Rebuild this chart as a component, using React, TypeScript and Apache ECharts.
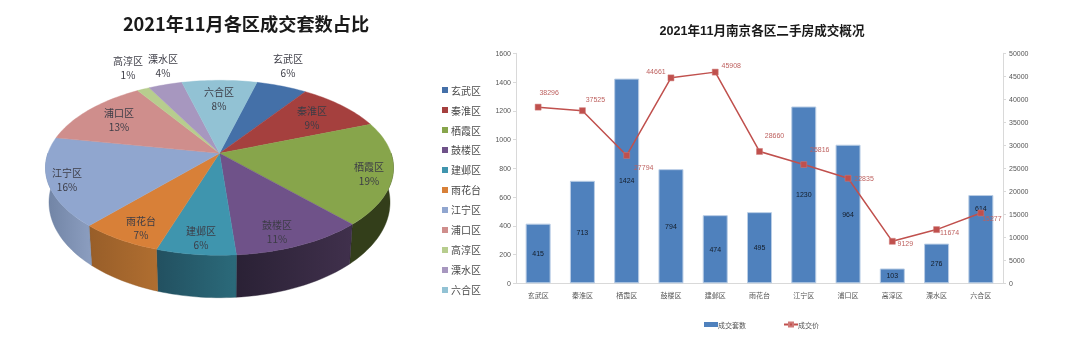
import React, { useEffect, useRef } from "react";
import * as echarts from "echarts";

const districts = ["玄武区", "秦淮区", "栖霞区", "鼓楼区", "建邺区", "雨花台", "江宁区", "浦口区", "高淳区", "溧水区", "六合区"];
const dealCounts = [415, 713, 1424, 794, 474, 495, 1230, 964, 103, 276, 614];
const dealPrices = [38296, 37525, 27794, 44661, 45908, 28660, 25816, 22835, 9129, 11674, 15277];
const sharePercents = [6, 9, 19, 11, 6, 7, 16, 13, 1, 4, 8];
const leftTicks = { max: 1600, step: 200 };
const rightTicks = { max: 50000, step: 5000 };

// styling / layout only
const sliceColors = ["#4470a8", "#a5403e", "#87a54b", "#6f5289", "#3f95ae", "#d88038", "#90a6cf", "#cf8e8c", "#b7cd8e", "#a797bf", "#92c2d4"];
const wallColors: [string, string][] = [
  ["#2f4f78", "#2f4f78"], ["#6e2b2a", "#6e2b2a"], ["#333e1a", "#333e1a"], ["#40304c", "#2a2135"],
  ["#2b6a7a", "#225060"], ["#b06e30", "#985e29"], ["#8c9ec0", "#7083a4"], ["#8e6160", "#8e6160"],
  ["#7d8c60", "#7d8c60"], ["#726783", "#726783"], ["#648592", "#648592"],
];
const pieLabelAt: [number, number][] = [[288, 65], [312, 117], [369, 173], [277, 231], [201, 237], [141, 227], [67, 179], [119, 119], [128, 67], [163, 65], [219, 98]];
const priceLabelShift: [number, number][] = [[11, -15], [13, -11], [17, 12], [-15, -6], [16, -7], [15, -16], [16, -15], [16, 0], [13, 2], [13, 3], [11, 5]];
const FIRST_ANGLE = 14.7;
const APEX = { x: 219.5, y: 153.3 };
const DISC = { rx: 171.6, ry: 85.1, k: 0.1657 };
const FLOOR = { sx: 0.98, sy: 1.09, y: 186.5 };
const CN = '"Liberation Sans", "Noto Sans CJK SC", sans-serif';
const CJK = '"Noto Sans CJK SC", sans-serif';

const total = dealCounts.reduce((a, b) => a + b, 0);

function rimPoint(deg: number, floor: boolean): [number, number] {
  const t = (deg * Math.PI) / 180;
  const u = Math.sin(t);
  const v = Math.cos(t);
  const w = 1 + DISC.k * v;
  const dx = (DISC.rx * u) / w;
  const dy = (DISC.ry * v) / w;
  return floor ? [APEX.x + dx * FLOOR.sx, FLOOR.y - dy * FLOOR.sy] : [APEX.x + dx, APEX.y - dy];
}

function arcPoints(from: number, to: number, floor: boolean) {
  const n = Math.max(2, Math.ceil(Math.abs(to - from) / 1.5));
  const pts: [number, number][] = [];
  for (let i = 0; i <= n; i++) pts.push(rimPoint(from + ((to - from) * i) / n, floor));
  return pts;
}

function makeSliceSeries(index: number) {
  const before = dealCounts.slice(0, index).reduce((a, b) => a + b, 0);
  return {
    type: "custom",
    name: districts[index],
    coordinateSystem: "none",
    itemStyle: { color: sliceColors[index] },
    silent: true,
    data: [[dealCounts[index], before]],
    renderItem: (_p: any, api: any) => {
      const value = api.value(0);
      const prior = api.value(1);
      const from = FIRST_ANGLE + (prior / total) * 360;
      const to = from + (value / total) * 360;
      const children: any[] = [];
      const wa = Math.max(from, 90);
      const wb = Math.min(to, 270);
      if (wb > wa) {
        const top = arcPoints(wa, wb, false);
        const bottom = arcPoints(wa, wb, true).reverse();
        const [c0, c1] = wallColors[index];
        const fill = new echarts.graphic.LinearGradient(1, 0, 0, 0, [
          { offset: 0, color: c0 },
          { offset: 1, color: c1 },
        ]);
        children.push({
          type: "polygon",
          z2: 1,
          shape: { points: top.concat(bottom) },
          style: { fill, stroke: c1, lineWidth: 0.4 },
        });
      }
      children.push({
        type: "polygon",
        z2: 2,
        shape: { points: [[APEX.x, APEX.y] as [number, number]].concat(arcPoints(from, to, false)) },
        style: { fill: sliceColors[index], stroke: sliceColors[index], lineWidth: 0.4 },
      });
      const [lx, ly] = pieLabelAt[index];
      children.push({
        type: "text",
        z2: 3,
        style: {
          x: lx,
          y: ly,
          text: `${districts[index]}\n${sharePercents[index]}%`,
          align: "center",
          verticalAlign: "middle",
          fill: "#3c3c46",
          font: `10px ${CJK}`,
          lineHeight: 14,
        },
      });
      return { type: "group", children };
    },
  };
}

export default function App() {
  const ref = useRef<HTMLDivElement>(null);
  useEffect(() => {
    const chart = echarts.init(ref.current!, undefined, { renderer: "svg" });
    chart.setOption({
      animation: false,
      backgroundColor: "#ffffff",
      title: [
        {
          text: "2021年11月各区成交套数占比",
          left: 241,
          top: 9,
          textAlign: "center",
          textStyle: { fontFamily: CJK, fontSize: 18.2, fontWeight: "bold", color: "#1a1a1a" },
        },
        {
          text: "2021年11月南京各区二手房成交概况",
          left: 757,
          top: 20,
          textAlign: "center",
          textStyle: { fontFamily: CN, fontSize: 12.6, fontWeight: "bold", color: "#1a1a1a" },
        },
      ],
      legend: [
        {
          data: districts,
          orient: "vertical",
          left: 442,
          top: 85,
          icon: "rect",
          itemWidth: 6,
          itemHeight: 6,
          itemGap: 10,
          padding: 0,
          textStyle: { fontFamily: CJK, fontSize: 10, color: "#4a4a4a", padding: [0, 0, 0, -2] },
        },
        {
          data: [
            { name: "成交套数", icon: "rect", itemStyle: { borderWidth: 0 } },
            { name: "成交价" },
          ],
          left: 704,
          top: 321,
          itemWidth: 14,
          itemHeight: 5,
          itemGap: 37,
          padding: 0,
          textStyle: { fontFamily: CJK, fontSize: 7, color: "#555555", padding: [0, 0, 0, -5] },
        },
      ],
      grid: { left: 516, right: 77, top: 53.3, height: 230, containLabel: false },
      xAxis: {
        type: "category",
        data: districts,
        axisLine: { lineStyle: { color: "#d9d9d9", width: 1 } },
        axisTick: { show: false },
        axisLabel: { fontFamily: CJK, fontSize: 7, color: "#555555", margin: 8, interval: 0 },
      },
      yAxis: [
        {
          type: "value",
          min: 0,
          max: leftTicks.max,
          interval: leftTicks.step,
          splitLine: { show: false },
          axisLine: { show: true, lineStyle: { color: "#d9d9d9" } },
          axisTick: { show: true, length: 3, lineStyle: { color: "#d9d9d9" } },
          axisLabel: { fontFamily: CN, fontSize: 7, color: "#555555", margin: 5, formatter: (v: number) => String(v) },
        },
        {
          type: "value",
          position: "right",
          min: 0,
          max: rightTicks.max,
          interval: rightTicks.step,
          splitLine: { show: false },
          axisLine: { show: true, lineStyle: { color: "#d9d9d9" } },
          axisTick: { show: true, length: 3, lineStyle: { color: "#d9d9d9" } },
          axisLabel: { fontFamily: CN, fontSize: 7, color: "#555555", margin: 6, formatter: (v: number) => String(v) },
        },
      ],
      series: [
        ...districts.map((_, i) => makeSliceSeries(i)),
        {
          type: "bar",
          name: "成交套数",
          yAxisIndex: 0,
          barWidth: 25,
          itemStyle: { color: "#4f81bd", borderColor: "#b9cde5", borderWidth: 1 },
          label: { show: true, position: "inside", fontFamily: CN, fontSize: 7, color: "#131c28" },
          data: dealCounts.map((v, i) =>
            districts[i] === "六合区" ? { value: v, label: { position: "insideTop", distance: 10 } } : v
          ),
        },
        {
          type: "line",
          name: "成交价",
          yAxisIndex: 1,
          symbol: "rect",
          symbolSize: 6,
          lineStyle: { color: "#c0504d", width: 1.5 },
          itemStyle: { color: "#c0504d", borderColor: "#cf7a78", borderWidth: 0.5 },
          z: 5,
          data: dealPrices.map((v, i) => ({
            value: v,
            label: {
              show: true,
              position: "inside",
              offset: priceLabelShift[i],
              formatter: String(v),
              fontFamily: CN,
              fontSize: 7,
              color: "#bd5f5d",
            },
          })),
        },
      ],
    });
    return () => chart.dispose();
  }, []);
  return <div ref={ref} style={{ position: "absolute", left: 0, top: 0, width: 1080, height: 352, filter: "blur(0.35px)" }} />;
}
